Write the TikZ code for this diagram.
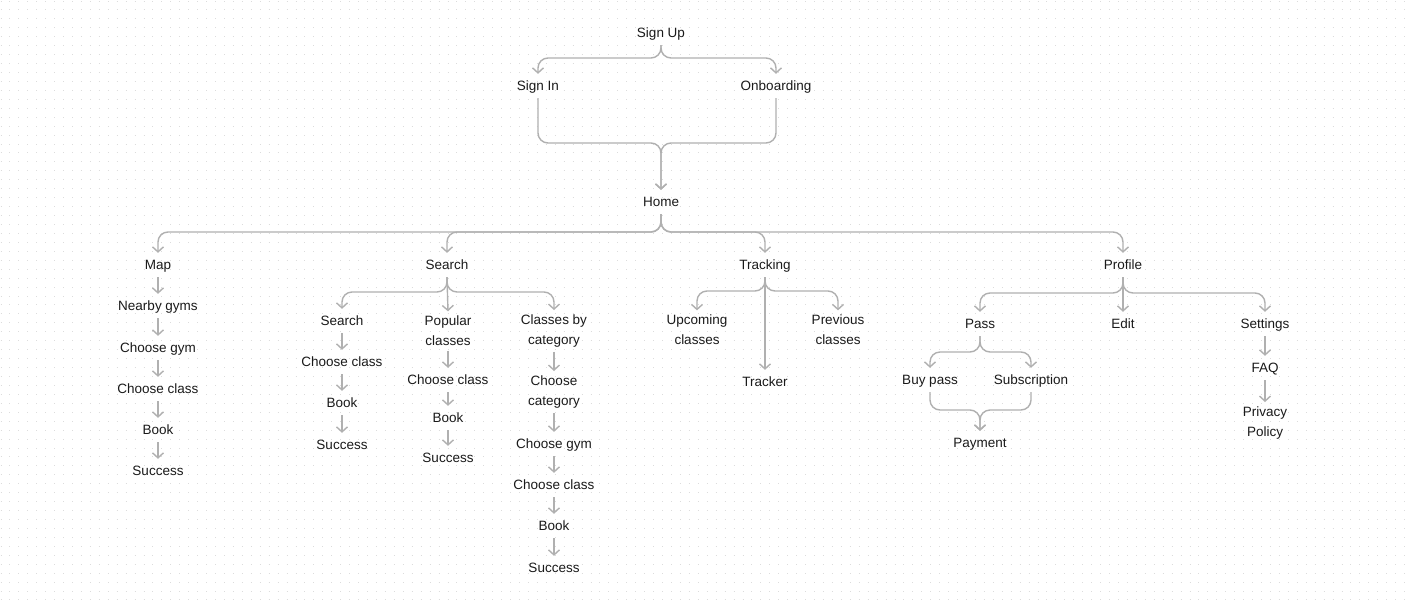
\documentclass[tikz,border=0pt]{standalone}
\usepackage{fontspec}
\setmainfont{Liberation Sans}
\usepackage{xcolor}
\usepackage{tikz}
\usetikzlibrary{arrows.meta}

\definecolor{linegray}{HTML}{B0B0B0}
\definecolor{inkgray}{HTML}{1A1A1A}
\definecolor{dotgray}{HTML}{DCDCDC}

\tikzset{
  screen/.style={font=\fontsize{13.5}{20}\selectfont, text=inkgray,
    text height=12pt, text depth=3pt, inner xsep=2pt, inner ysep=4.5pt,
    yshift=-1pt},
  screentwo/.style={font=\fontsize{13.5}{20}\selectfont, text=inkgray,
    align=center, inner xsep=2pt, inner ysep=4.5pt, yshift=-1pt},
  flow/.style={draw=linegray, line width=1.4pt, rounded corners=10pt,
    -{Straight Barb[length=5pt,width=11pt]}},
}

\begin{document}
\begin{tikzpicture}[x=1pt, y=-1pt]
  % canvas and dot grid
  \useasboundingbox (0,0) rectangle (1408,603);
  \fill[white] (0,0) rectangle (1408,603);
  \foreach \r in {0,...,67}
    \draw[dotgray, line width=1pt, dash pattern=on 1pt off 7.94pt]
      (0.5,\r*8.94+1) -- (1408,\r*8.94+1);

  % entry
  \node[screen] (signup) at (661,32) {Sign Up};
  \node[screen] (signin) at (538,85) {Sign In};
  \node[screen] (onboard) at (776,85) {Onboarding};
  \node[screen] (home) at (661,201) {Home};
  \coordinate (upfork) at (661,58);
  \coordinate (homejoin) at (661,143);

  \draw[flow] (signup.south) -- (upfork) -| (signin.north);
  \draw[flow] (signup.south) -- (upfork) -| (onboard.north);
  \draw[flow] (signin.south) |- (homejoin) -- (home.north);
  \draw[flow] (onboard.south) |- (homejoin) -- (home.north);

  % main sections
  \node[screen] (map) at (158,264) {Map};
  \node[screen] (search) at (447,264) {Search};
  \node[screen] (tracking) at (765,264) {Tracking};
  \node[screen] (profile) at (1123,264) {Profile};
  \coordinate (homebus) at (661,232);

  \foreach \sec in {map,search,tracking,profile}
    \draw[flow] (home.south) -- (homebus) -| (\sec.north);

  % map
  \node[screen] (nearby) at (158,305) {Nearby gyms};
  \node[screen] (mapgym) at (158,347) {Choose gym};
  \node[screen] (mapclass) at (158,388) {Choose class};
  \node[screen] (mapbook) at (158,429) {Book};
  \node[screen] (mapdone) at (158,470) {Success};
  \draw[flow] (map) -- (nearby);
  \draw[flow] (nearby) -- (mapgym);
  \draw[flow] (mapgym) -- (mapclass);
  \draw[flow] (mapclass) -- (mapbook);
  \draw[flow] (mapbook) -- (mapdone);

  % search
  \node[screen] (srch) at (342,320) {Search};
  \node[screen] (srchclass) at (342,361) {Choose class};
  \node[screen] (srchbook) at (342,402) {Book};
  \node[screen] (srchdone) at (342,444) {Success};
  \node[screentwo] (popular) at (448,330) {Popular\\classes};
  \node[screen] (popclass) at (448,379) {Choose class};
  \node[screen] (popbook) at (448,417) {Book};
  \node[screen] (popdone) at (448,457) {Success};
  \node[screentwo] (bycat) at (554,330) {Classes by\\category};
  \node[screentwo] (catpick) at (554,391) {Choose\\category};
  \node[screen] (catgym) at (554,443) {Choose gym};
  \node[screen] (catclass) at (554,484) {Choose class};
  \node[screen] (catbook) at (554,525) {Book};
  \node[screen] (catdone) at (554,567) {Success};
  \coordinate (searchfork) at (447,292);

  \draw[flow] (search.south) -- (searchfork) -| (srch.north);
  \draw[flow] (search.south) -- (popular.north);
  \draw[flow] (search.south) -- (searchfork) -| (bycat.north);
  \draw[flow] (srch) -- (srchclass);
  \draw[flow] (srchclass) -- (srchbook);
  \draw[flow] (srchbook) -- (srchdone);
  \draw[flow] (popular) -- (popclass);
  \draw[flow] (popclass) -- (popbook);
  \draw[flow] (popbook) -- (popdone);
  \draw[flow] (bycat) -- (catpick);
  \draw[flow] (catpick) -- (catgym);
  \draw[flow] (catgym) -- (catclass);
  \draw[flow] (catclass) -- (catbook);
  \draw[flow] (catbook) -- (catdone);

  % tracking
  \node[screentwo] (upcoming) at (697,329) {Upcoming\\classes};
  \node[screentwo] (previous) at (838,329) {Previous\\classes};
  \node[screen] (tracker) at (765,381) {Tracker};
  \coordinate (trackfork) at (765,291);

  \draw[flow] (tracking.south) -- (trackfork) -| (upcoming.north);
  \draw[flow] (tracking.south) -- (trackfork) -| (previous.north);
  \draw[flow] (tracking.south) -- (tracker.north);

  % profile
  \node[screen] (pass) at (980,323) {Pass};
  \node[screen] (edit) at (1123,323) {Edit};
  \node[screen] (settings) at (1265,323) {Settings};
  \node[screen] (buypass) at (930,379) {Buy pass};
  \node[screen] (subscr) at (1031,379) {Subscription};
  \node[screen] (payment) at (980,442) {Payment};
  \node[screen] (faq) at (1265,367) {FAQ};
  \node[screentwo] (privacy) at (1265,422) {Privacy\\Policy};
  \coordinate (profilefork) at (1123,293);
  \coordinate (passfork) at (980,352);
  \coordinate (payjoin) at (980,410);

  \draw[flow] (profile.south) -- (profilefork) -| (pass.north);
  \draw[flow] (profile.south) -- (edit.north);
  \draw[flow] (profile.south) -- (profilefork) -| (settings.north);
  \draw[flow] (pass.south) -- (passfork) -| (buypass.north);
  \draw[flow] (pass.south) -- (passfork) -| (subscr.north);
  \draw[flow] (buypass.south) |- (payjoin) -- (payment.north);
  \draw[flow] (subscr.south) |- (payjoin) -- (payment.north);
  \draw[flow] (settings) -- (faq);
  \draw[flow] (faq) -- (privacy);
\end{tikzpicture}
\end{document}
